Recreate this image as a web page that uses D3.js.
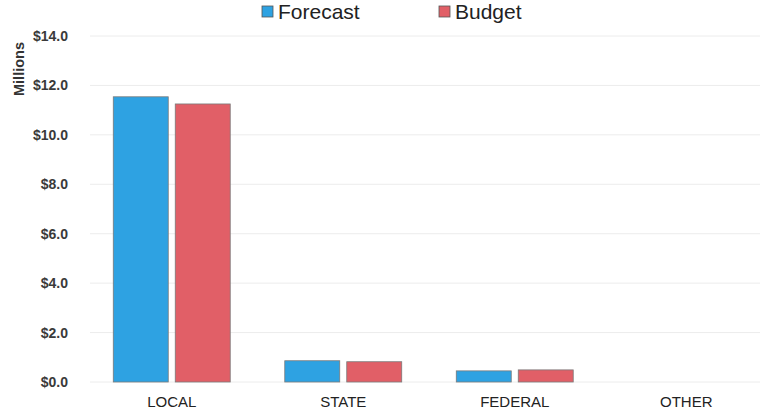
<!DOCTYPE html>
<html>
<head>
<meta charset="utf-8">
<script src="https://cdn.jsdelivr.net/npm/d3@7"></script>
<style>
  body { margin: 0; background: #fff; }
  svg { display: block; font-family: "Liberation Sans", Arial, sans-serif; }
</style>
</head>
<body>
<div id="chart"></div>
<script>
const categories = ['LOCAL', 'STATE', 'FEDERAL', 'OTHER'];
const forecast = [11.54, 0.86, 0.45, 0];
const budget = [11.25, 0.82, 0.49, 0];
const yTicks = [0, 2, 4, 6, 8, 10, 12, 14];
const seriesNames = ['Forecast', 'Budget'];
const colors = ['#2ea2e2', '#e15f67'];

const width = 767;
const height = 412;
const margin = { top: 36, right: -5, bottom: 30, left: 86 };

const svg = d3.select('#chart').append('svg')
  .attr('width', width).attr('height', height);

const x = d3.scaleBand().domain(categories)
  .range([margin.left, width - margin.right]);
const xs = d3.scaleBand().domain(seriesNames)
  .range([0, x.bandwidth()]).paddingInner(0.113).paddingOuter(0.44);
const y = d3.scaleLinear().domain([0, 14])
  .range([height - margin.bottom, margin.top]);

// grid
svg.append('g')
  .selectAll('line')
  .data(yTicks)
  .join('line')
  .attr('x1', margin.left + 4)
  .attr('x2', 760)
  .attr('y1', (d) => y(d))
  .attr('y2', (d) => y(d))
  .attr('stroke', '#ececec')
  .attr('stroke-width', 1);

// y axis labels
const yAxis = svg.append('g')
  .attr('transform', `translate(${margin.left - 15},0)`)
  .call(d3.axisLeft(y).tickValues(yTicks).tickSize(0).tickFormat((d) => '$' + d3.format('.1f')(d)));
yAxis.select('.domain').remove();
yAxis.selectAll('text')
  .attr('font-size', 14)
  .attr('font-weight', 700)
  .attr('fill', '#3a3a3a')
  .attr('font-family', '"Liberation Sans", Arial, sans-serif');

svg.append('text')
  .attr('transform', 'translate(24,69) rotate(-90)')
  .attr('text-anchor', 'middle')
  .attr('font-size', 14.5)
  .attr('font-weight', 700)
  .attr('fill', '#333')
  .text('Millions');

// bars
const data = categories.map((c, i) => ({ c, vals: [forecast[i], budget[i]] }));
const groups = svg.append('g').selectAll('g')
  .data(data)
  .join('g')
  .attr('transform', (d) => `translate(${x(d.c)},0)`);

groups.selectAll('rect')
  .data((d) => d.vals.map((v, j) => ({ v, s: seriesNames[j], j })))
  .join('rect')
  .filter((d) => d.v > 0)
  .attr('x', (d) => xs(d.s))
  .attr('y', (d) => y(d.v))
  .attr('width', xs.bandwidth())
  .attr('height', (d) => y(0) - y(d.v))
  .attr('fill', (d) => colors[d.j])
  .attr('stroke', '#7a7a7a')
  .attr('stroke-width', 0.8);

// x labels
const xAxis = svg.append('g')
  .attr('transform', `translate(0,${y(0) + 11})`)
  .call(d3.axisBottom(x).tickSize(0));
xAxis.select('.domain').remove();
xAxis.selectAll('text')
  .attr('font-size', 15)
  .attr('fill', '#222')
  .attr('font-family', '"Liberation Sans", Arial, sans-serif');

// legend
const legendX = [262, 439];
const legend = svg.append('g').selectAll('g')
  .data(seriesNames)
  .join('g')
  .attr('transform', (d, i) => `translate(${legendX[i]},12)`);
legend.append('rect')
  .attr('x', 0).attr('y', -6)
  .attr('width', 11).attr('height', 11)
  .attr('fill', (d, i) => colors[i])
  .attr('stroke', '#555')
  .attr('stroke-width', 0.8);
legend.append('text')
  .attr('x', 16).attr('dy', '0.35em')
  .attr('font-size', 21)
  .attr('fill', '#222')
  .text((d) => d);
</script>
</body>
</html>
